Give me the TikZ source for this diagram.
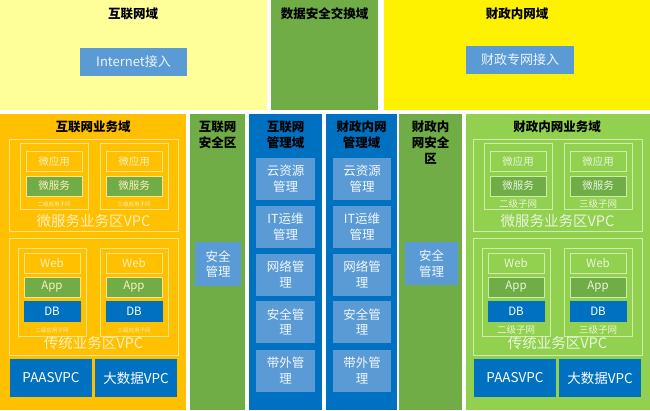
\documentclass[tikz,border=0pt]{standalone}
\usepackage{fontspec}
\setmainfont{Noto Sans CJK SC}
\usetikzlibrary{positioning}

\definecolor{paleyellow}{HTML}{FFFF99}
\definecolor{puregreen}{HTML}{70AD47}
\definecolor{lightgreen}{HTML}{92D050}
\definecolor{deeporange}{HTML}{FFC000}
\definecolor{deepblue}{HTML}{0070C0}
\definecolor{softblue}{HTML}{5B9BD5}
\definecolor{orangeline}{HTML}{FFE38C}
\definecolor{greenline}{HTML}{CDEDA8}

\tikzset{
  zone/.style={anchor=north west, inner sep=0pt, outer sep=0pt},
  title/.style={font=\fontsize{12.5}{16}\selectfont\bfseries, align=center, text=black},
  accessbox/.style={fill=softblue, text=white!90!softblue, inner sep=0pt, font=\fontsize{13}{15}\selectfont},
  mgmtitem/.style={fill=softblue, text=white!92!softblue, inner sep=0pt, align=center, font=\fontsize{12.5}{15.5}\selectfont},
  vpcline/.style={draw=lineclr, line width=0.8pt},
  plainbox/.style={draw=lineclr, line width=0.8pt, text=txtclr, minimum width=56, minimum height=20, inner sep=0pt},
  svcbox/.style={plainbox, fill=svcclr},
  dbbox/.style={plainbox, fill=deepblue, draw=deepblue, text=white},
  vpcbox/.style={fill=deepblue, text=white, inner sep=0pt, minimum height=38, font=\fontsize{13.5}{15}\selectfont},
  vpclabel/.style={text=txtclr, font=\fontsize{14.5}{16}\selectfont},
}

\newcommand{\bizdomain}[3]{
    % 微服务业务区
    \draw[vpcline] (9,139) rectangle (178,231);
    \foreach \x/\s/\lbl in {20/a/#2, 100/b/#3} {
        \draw[vpcline] (\x,143) rectangle ++(68,66);
        \node[plainbox, font=\fontsize{10.5}{12}\selectfont] (#1ms\s) at (\x+34,161.5) {微应用};
        \node[svcbox, font=\fontsize{10.5}{12}\selectfont] (#1svc\s) at (\x+34,186) {微服务};
        \node[sublabel] (#1msl\s) at (\x+34,204) {\lbl};
    }
    \node[vpclabel] (#1vpcA) at (93.5,221) {微服务业务区VPC};

    % 传统业务区
    \draw[vpcline] (9,238) rectangle (178,355);
    \foreach \x/\s/\lbl in {18/a/#2, 100/b/#3} {
        \draw[vpcline] (\x,248) rectangle ++(68,88);
        \node[plainbox, font=\fontsize{11.5}{13}\selectfont] (#1web\s) at (\x+34,263) {Web};
        \node[svcbox, font=\fontsize{11.5}{13}\selectfont] (#1app\s) at (\x+34,287) {App};
        \node[dbbox, font=\fontsize{11.5}{13}\selectfont] (#1db\s) at (\x+34,311) {DB};
        \node[sublabel] (#1tsl\s) at (\x+34,330) {\lbl};
    }
    \node[vpclabel] (#1vpcB) at (93.5,342.5) {传统业务区VPC};

    \node[vpcbox, minimum width=82] (#1paas) at (51,378) {PAASVPC};
    \node[vpcbox, minimum width=82] (#1bigdata) at (136,378) {大数据VPC};
}

\begin{document}
\begin{tikzpicture}[x=1pt, y=-1pt]
\useasboundingbox (0,0) rectangle (650,410);

% 上层区域
\node[zone, fill=paleyellow, minimum width=267, minimum height=110] (netZone) at (0,0) {};
\node[title] (netTitle) at (133,14) {互联网域};
\node[accessbox, minimum width=107, minimum height=28] (netAccess) at (133.5,62) {Internet接入};

\node[zone, fill=puregreen, minimum width=107, minimum height=110] (swapZone) at (271,0) {};
\node[title] (swapTitle) at (324.5,14) {数据安全交换域};

\node[zone, fill=yellow, minimum width=266, minimum height=110] (govZone) at (384,0) {};
\node[title] (govTitle) at (517,14) {财政内网域};
\node[accessbox, minimum width=108, minimum height=28] (govAccess) at (520,60) {财政专网接入};

% 下层区域
\node[zone, fill=deeporange, minimum width=186, minimum height=296] (bizNet) at (0,114) {};
\node[zone, fill=puregreen, minimum width=55, minimum height=296] (secNet) at (190,114) {};
\node[zone, fill=deepblue, minimum width=73, minimum height=296] (mgmtNet) at (249,114) {};
\node[zone, fill=deepblue, minimum width=71, minimum height=296] (mgmtGov) at (326,114) {};
\node[zone, fill=puregreen, minimum width=63, minimum height=296] (secGov) at (399,114) {};
\node[zone, fill=lightgreen, minimum width=184, minimum height=296] (bizGov) at (466,114) {};

\node[title] (bizNetTitle) at (93,127) {互联网业务域};
\node[title] (secNetTitle) at (217.5,135) {互联网\\安全区};
\node[title] (mgmtNetTitle) at (285.5,135) {互联网\\管理域};
\node[title] (mgmtGovTitle) at (361.5,135) {财政内网\\管理域};
\node[title] (secGovTitle) at (430.5,142.5) {财政内\\网安全\\区};
\node[title] (bizGovTitle) at (557,127) {财政内网业务域};

% 安全区
\node[mgmtitem, minimum width=46, minimum height=44] (secNetBox) at (218,264) {安全\\管理};
\node[mgmtitem, minimum width=53, minimum height=43] (secGovBox) at (431.5,263.5) {安全\\管理};

% 管理域
\foreach \y/\txt/\n in {179/{云资源\\管理}/1, 227/{IT运维\\管理}/2, 274.5/{网络管\\理}/3,
                        322/{安全管\\理}/4, 370.5/{带外管\\理}/5} {
    \node[mgmtitem, minimum width=59, minimum height=42] (mgmtNet\n) at (285.5,\y) {\txt};
    \node[mgmtitem, minimum width=58, minimum height=42] (mgmtGov\n) at (362,\y) {\txt};
}

% 业务域
\begin{scope}[sublabel/.style={text=txtclr, font=\fontsize{5.5}{6}\selectfont}]
    \colorlet{lineclr}{orangeline}
    \colorlet{txtclr}{white!75!deeporange}
    \colorlet{svcclr}{puregreen}
    \bizdomain{n}{二级应用子网}{三级应用子网}
\end{scope}

\begin{scope}[xshift=464pt, sublabel/.style={text=txtclr, font=\fontsize{9.5}{11}\selectfont}]
    \colorlet{lineclr}{greenline}
    \colorlet{txtclr}{white!80!lightgreen}
    \colorlet{svcclr}{puregreen}
    \bizdomain{g}{二级子网}{三级子网}
\end{scope}

\end{tikzpicture}
\end{document}
